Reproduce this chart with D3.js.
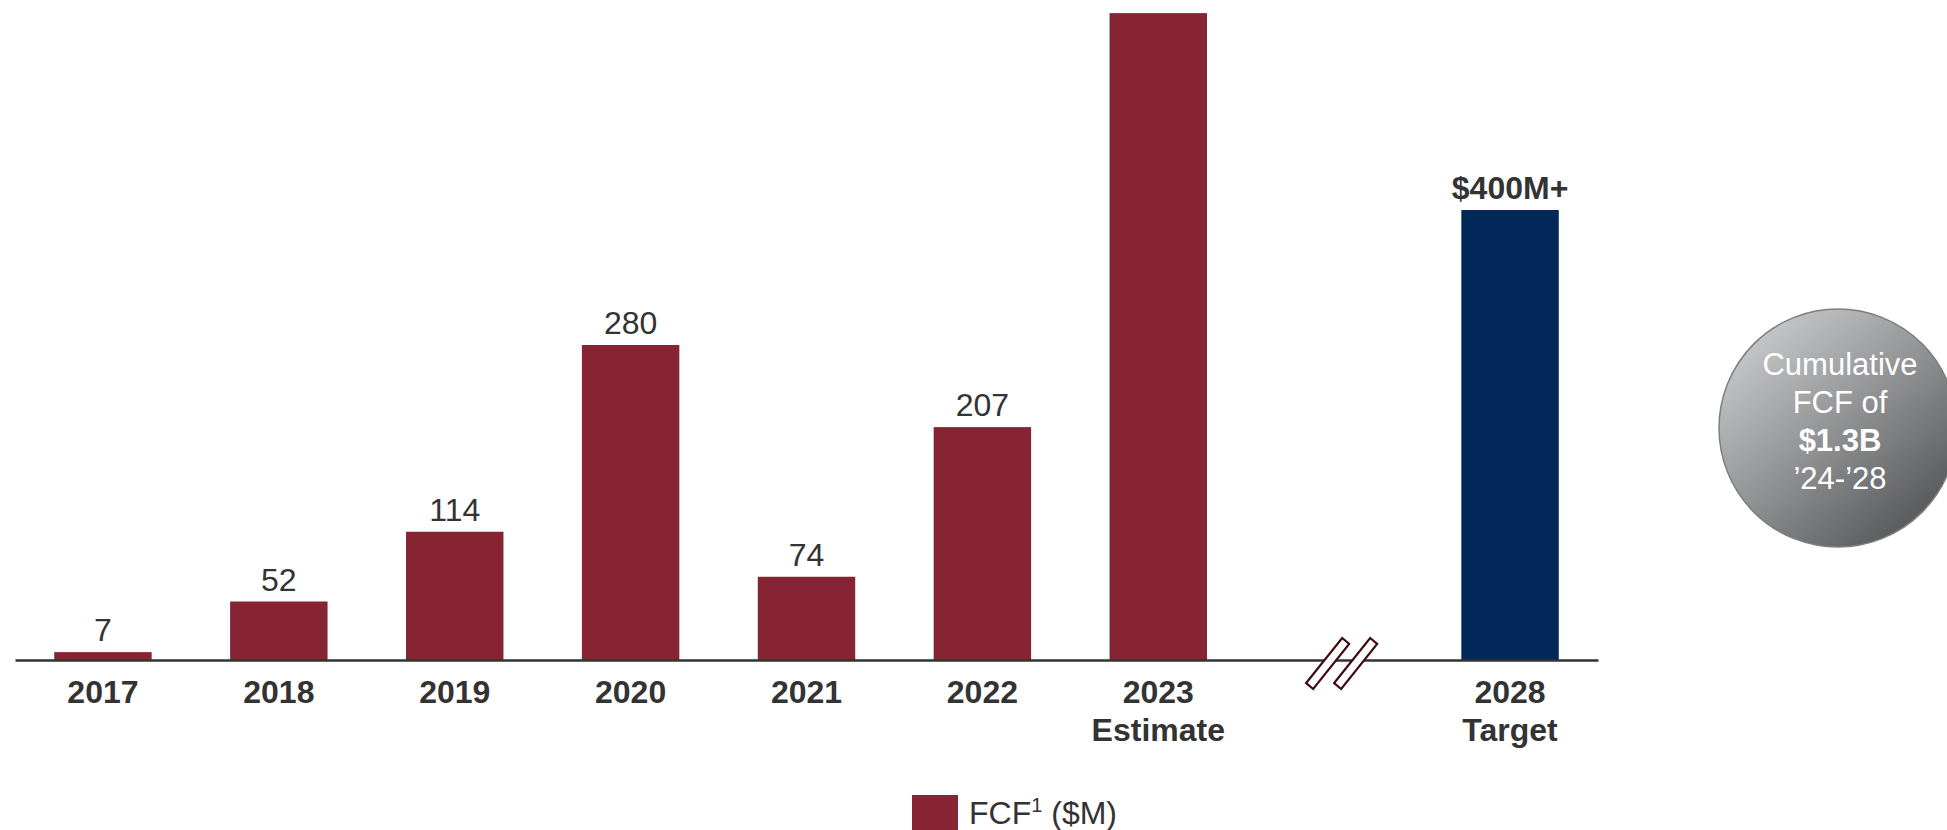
<!DOCTYPE html>
<html>
<head>
<meta charset="utf-8">
<script src="https://cdn.jsdelivr.net/npm/d3@7"></script>
<style>
  html, body { margin: 0; padding: 0; background: #ffffff; }
  svg { display: block; }
  text { font-family: "Liberation Sans", Arial, sans-serif; }
</style>
</head>
<body>
<svg id="chart" width="1947" height="830"></svg>
<script>
// Free cash flow by year ($M)
const years      = ["2017", "2018", "2019", "2020", "2021", "2022", "2023", "2028"];
const subLabels  = ["", "", "", "", "", "", "Estimate", "Target"];
const fcf        = [7, 52, 114, 280, 74, 207, 575, 400];
const valueText  = ["7", "52", "114", "280", "74", "207", "", "$400M+"];
const kind       = ["actual", "actual", "actual", "actual", "actual", "actual", "actual", "target"];
const slots      = ["2017", "2018", "2019", "2020", "2021", "2022", "2023", "break", "2028"];
const yDomainMax = 580;

const legendLabel = "FCF";
const legendSup   = "1";
const legendUnit  = " ($M)";

const bubbleLines = ["Cumulative", "FCF of", "$1.3B", "\u201924-\u201928"];
const bubbleBold  = [false, false, true, false];

const colors = { actual: "#862433", target: "#012859" };
const textColor = "#333333";

const svg = d3.select("#chart");
const baseY = 660;

const x = d3.scaleBand()
  .domain(slots)
  .range([15, 1598])
  .paddingInner(0.446)
  .paddingOuter(0.223);

const y = d3.scaleLinear()
  .domain([0, yDomainMax])
  .range([baseY, baseY - yDomainMax * 1.125]);

const data = years.map((yr, i) => ({
  year: yr, sub: subLabels[i], value: fcf[i], label: valueText[i], kind: kind[i]
}));

// bars
svg.append("g").selectAll("rect")
  .data(data)
  .join("rect")
  .attr("x", d => x(d.year))
  .attr("y", d => y(d.value))
  .attr("width", x.bandwidth())
  .attr("height", d => y(0) - y(d.value))
  .attr("fill", d => colors[d.kind]);

// value labels
svg.append("g").selectAll("text")
  .data(data.filter(d => d.label !== ""))
  .join("text")
  .attr("x", d => x(d.year) + x.bandwidth() / 2)
  .attr("y", d => y(d.value) - 11)
  .attr("text-anchor", "middle")
  .attr("fill", textColor)
  .attr("font-size", 32)
  .attr("font-weight", d => d.kind === "target" ? "bold" : "normal")
  .text(d => d.label);

// category axis
const axis = d3.axisBottom(x)
  .tickSize(0)
  .tickSizeOuter(0)
  .tickFormat(() => "");
const gAxis = svg.append("g")
  .attr("transform", `translate(0,${baseY})`)
  .call(axis);
gAxis.select(".domain").attr("stroke", "#333333").attr("stroke-width", 2.5);
gAxis.selectAll(".tick text").remove();

const catLabels = svg.append("g").selectAll("text")
  .data(data)
  .join("text")
  .attr("x", d => x(d.year) + x.bandwidth() / 2)
  .attr("y", baseY + 43)
  .attr("text-anchor", "middle")
  .attr("fill", textColor)
  .attr("font-size", 32)
  .attr("font-weight", "bold");
catLabels.append("tspan").text(d => d.year);
catLabels.filter(d => d.sub !== "")
  .append("tspan")
  .attr("x", d => x(d.year) + x.bandwidth() / 2)
  .attr("dy", 37.5)
  .text(d => d.sub);

// axis break marker
const bx = x("break") + x.bandwidth() / 2 + 7;
const breakShape = [[-35, 23], [1, -22], [8, -16], [-28, 29]];
svg.append("g")
  .attr("transform", `translate(${bx},${baseY})`)
  .selectAll("path")
  .data([0, 28])
  .join("path")
  .attr("d", dx => "M" + breakShape.map(p => [p[0] + dx, p[1]].join(",")).join("L") + "Z")
  .attr("fill", "#ffffff")
  .attr("stroke", "#3f0a12")
  .attr("stroke-width", 2.2)
  .attr("stroke-linejoin", "miter");

// legend
const lg = svg.append("g").attr("transform", "translate(912,795)");
lg.append("rect").attr("width", 46).attr("height", 36).attr("fill", colors.actual);
const lt = lg.append("text")
  .attr("x", 57).attr("y", 29)
  .attr("fill", textColor)
  .attr("font-size", 32);
lt.append("tspan").text(legendLabel);
lt.append("tspan").attr("font-size", 20).attr("dy", -12).text(legendSup);
lt.append("tspan").attr("dy", 12).text(legendUnit);

// cumulative bubble
const defs = svg.append("defs");
const grad = defs.append("linearGradient")
  .attr("id", "bubbleFill")
  .attr("x1", "0.15").attr("y1", "0.1")
  .attr("x2", "0.85").attr("y2", "0.9");
grad.append("stop").attr("offset", "0").attr("stop-color", "#c6c7c8");
grad.append("stop").attr("offset", "0.5").attr("stop-color", "#909193");
grad.append("stop").attr("offset", "1").attr("stop-color", "#57585a");

const cx = 1838, cy = 428, r = 119;
svg.append("circle")
  .attr("cx", cx).attr("cy", cy).attr("r", r)
  .attr("fill", "url(#bubbleFill)")
  .attr("stroke", "#7d7e80")
  .attr("stroke-width", 1.5);

svg.append("g").selectAll("text")
  .data(bubbleLines)
  .join("text")
  .attr("x", cx + 2)
  .attr("y", (d, i) => 375 + i * 38)
  .attr("text-anchor", "middle")
  .attr("fill", "#ffffff")
  .attr("font-size", 31)
  .attr("font-weight", (d, i) => bubbleBold[i] ? "bold" : "normal")
  .text(d => d);
</script>
</body>
</html>
